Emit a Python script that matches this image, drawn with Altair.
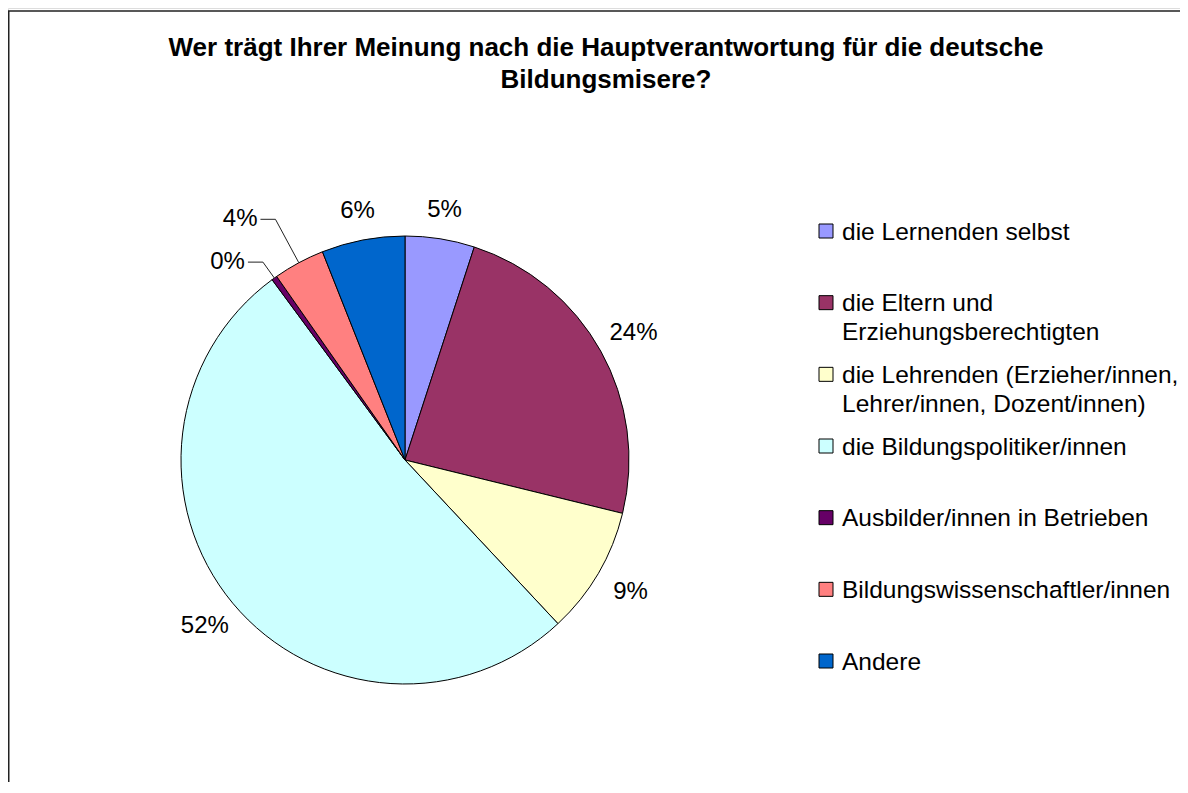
import altair as alt
import pandas as pd

# ---- data ----
categories = [
    "die Lernenden selbst",
    "die Eltern und\nErziehungsberechtigten",
    "die Lehrenden (Erzieher/innen,\nLehrer/innen, Dozent/innen)",
    "die Bildungspolitiker/innen",
    "Ausbilder/innen in Betrieben",
    "Bildungswissenschaftler/innen",
    "Andere",
]
values = [5.0, 23.8, 9.2, 51.8, 0.4, 3.7, 6.0]
colors = ["#9999FF", "#993366", "#FFFFCC", "#CCFFFF", "#660066", "#FF8080", "#0066CC"]
title_lines = [
    "Wer trägt Ihrer Meinung nach die Hauptverantwortung für die deutsche",
    "Bildungsmisere?",
]

df = pd.DataFrame({"name": categories, "value": values, "order": list(range(len(categories)))})

FONT = "Liberation Sans"
CX, CY, R = 397, 452, 224
W, H = 1172, 774

color = alt.Color("name:N", scale=alt.Scale(domain=categories, range=colors), legend=None)

base = alt.Chart(df)

pie = base.mark_arc(outerRadius=R, stroke="black", strokeWidth=1).encode(
    theta=alt.Theta("value:Q", stack=True),
    order=alt.Order("order:Q", sort="ascending"),
    color=color,
    x=alt.value(CX),
    y=alt.value(CY),
)

geo = (
    base.transform_window(cum="sum(value)", sort=[alt.SortField("order", order="ascending")])
    .transform_joinaggregate(total="sum(value)")
    .transform_calculate(
        mid="2*PI*(datum.cum - datum.value/2)/datum.total",
        pct="datum.value/datum.total",
    )
    .transform_calculate(
        label="format(datum.pct, '.0%')",
        lr="251 + 12*abs(sin(datum.mid))",
        er="240 + 900*datum.pct",
    )
    .transform_calculate(
        lx=f"{CX} + datum.lr*sin(datum.mid)",
        ly=f"{CY} - datum.lr*cos(datum.mid)",
        ax=f"{CX} + {R}*sin(datum.mid)",
        ay=f"{CY} - {R}*cos(datum.mid)",
        ex=f"{CX} + datum.er*sin(datum.mid)",
        ey=f"{CY} - datum.er*cos(datum.mid)",
    )
    .transform_calculate(
        hx="datum.ex - 15",
        tx="datum.ex - 18",
    )
)

normal = geo.transform_filter("datum.pct >= 0.045")
small = geo.transform_filter("datum.pct < 0.045")

labels = normal.mark_text(
    font=FONT, fontSize=24, align="center", baseline="middle", color="black"
).encode(
    x=alt.X("lx:Q", scale=None, axis=None),
    y=alt.Y("ly:Q", scale=None, axis=None),
    text="label:N",
)

lead1 = small.mark_rule(color="#222222", strokeWidth=1).encode(
    x=alt.X("ax:Q", scale=None, axis=None),
    y=alt.Y("ay:Q", scale=None, axis=None),
    x2="ex:Q",
    y2="ey:Q",
)
lead2 = small.mark_rule(color="#222222", strokeWidth=1).encode(
    x=alt.X("ex:Q", scale=None, axis=None),
    y=alt.Y("ey:Q", scale=None, axis=None),
    x2="hx:Q",
    y2="ey:Q",
)
small_labels = small.mark_text(
    font=FONT, fontSize=24, align="right", baseline="middle", color="black"
).encode(
    x=alt.X("tx:Q", scale=None, axis=None),
    y=alt.Y("ey:Q", scale=None, axis=None),
    text="label:N",
)

legend_y = alt.Y(
    "name:N",
    sort=categories,
    scale=alt.Scale(type="point", domain=categories, range=[223, 653], padding=0),
    axis=None,
)

leg_sym = base.mark_square(size=196, stroke="black", strokeWidth=1, opacity=1).encode(
    x=alt.value(818),
    y=legend_y,
    color=color,
)
leg_txt = (
    base.transform_calculate(lines="split(datum.name, '\\n')")
    .mark_text(
        font=FONT, fontSize=24.5, align="left", baseline="alphabetic", dy=8.5,
        lineHeight=29, color="black",
    )
    .encode(x=alt.value(834), y=legend_y, text="lines:N")
)

one = alt.Data(values=[{"k": 1}])
title = alt.Chart(one).mark_text(
    font=FONT, fontSize=26, fontWeight="bold", align="center", baseline="alphabetic",
    lineHeight=32, color="black",
).encode(x=alt.value(598), y=alt.value(48), text=alt.value(title_lines))

frame = alt.Chart(one).mark_rect(
    fillOpacity=0, stroke="#222222", strokeWidth=1.5
).encode(x=alt.value(0.75), x2=alt.value(1400), y=alt.value(3), y2=alt.value(1200))

chart = (
    alt.layer(frame, pie, labels, lead1, lead2, small_labels, leg_sym, leg_txt, title)
    .resolve_scale(x="independent", y="independent")
    .properties(width=W, height=H, autosize=alt.AutoSizeParams(type="none"), padding=0)
    .configure_view(strokeWidth=0)
    .configure(background="white")
)

chart.save("out.html", embed_options={"renderer": "svg", "actions": False})
